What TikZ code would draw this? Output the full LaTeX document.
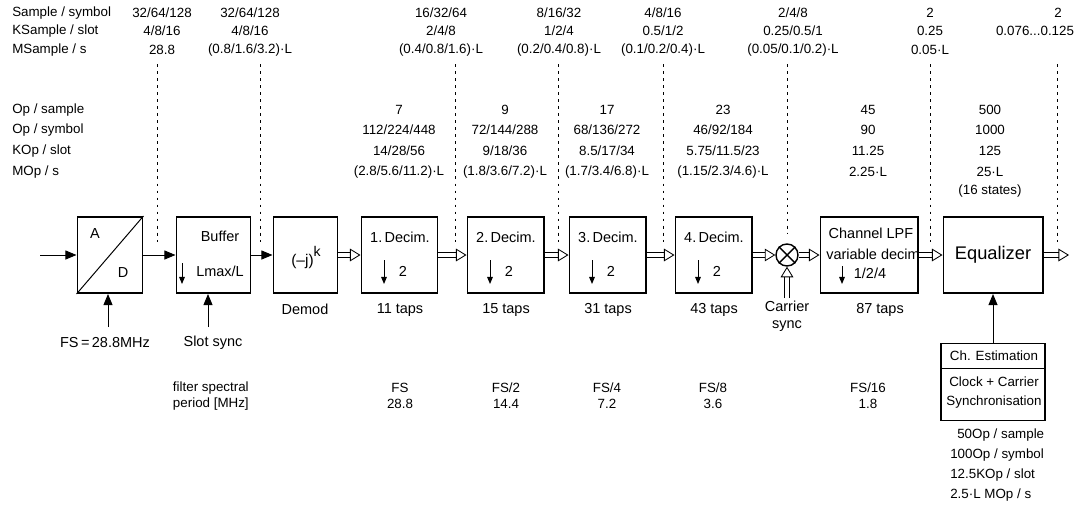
\documentclass[tikz,border=0pt]{standalone}
\usepackage{fontspec}
\setmainfont{Liberation Sans}
\usetikzlibrary{arrows.meta}

\tikzset{
  blk/.style={draw, line width=1.4pt, minimum height=1.9cm, inner sep=0pt},
  lbl/.style={font=\fontsize{9.5}{11.4}\selectfont, inner sep=0pt},
  inlbl/.style={font=\fontsize{10.3}{12}\selectfont, inner sep=0pt},
  sig/.style={line width=0.7pt, -{Triangle[length=8pt,width=6.5pt]}},
  bus/.style={double, double distance=2.6pt, line width=0.6pt,
    -{Triangle[open,length=7.5pt,width=9pt,line width=0.6pt]}},
  sep/.style={line width=0.6pt, dash pattern=on 2pt off 3pt},
  dn/.style={line width=0.7pt, -{Triangle[length=5pt,width=4pt]}}
}

\begin{document}
\begin{tikzpicture}[x=0.025cm, y=-0.025cm]
    \useasboundingbox (0,0) rectangle (1079,506);

    % Sample rates
    \node[lbl, anchor=west] at (12,13) {Sample / symbol};
    \node[lbl, anchor=west] at (12,31) {KSample / slot};
    \node[lbl, anchor=west] at (12,50) {MSample / s};
    \node[lbl] at (162,13) {32/64/128};
    \node[lbl] at (162,31) {4/8/16};
    \node[lbl] at (162,50) {28.8};
    \node[lbl] at (250,13) {32/64/128};
    \node[lbl] at (250,31) {4/8/16};
    \node[lbl] at (250,50) {(0.8/1.6/3.2)·L};
    \node[lbl] at (441,13) {16/32/64};
    \node[lbl] at (441,31) {2/4/8};
    \node[lbl] at (441,50) {(0.4/0.8/1.6)·L};
    \node[lbl] at (559,13) {8/16/32};
    \node[lbl] at (559,31) {1/2/4};
    \node[lbl] at (559,50) {(0.2/0.4/0.8)·L};
    \node[lbl] at (663,13) {4/8/16};
    \node[lbl] at (663,31) {0.5/1/2};
    \node[lbl] at (663,50) {(0.1/0.2/0.4)·L};
    \node[lbl] at (793,13) {2/4/8};
    \node[lbl] at (793,31) {0.25/0.5/1};
    \node[lbl] at (793,50) {(0.05/0.1/0.2)·L};
    \node[lbl] at (930,13) {2};
    \node[lbl] at (930,31) {0.25};
    \node[lbl] at (930,50) {0.05·L};
    \node[lbl] at (1058,13) {2};
    \node[lbl] at (1035,31) {0.076...0.125};

    % Operation counts
    \node[lbl, anchor=west] at (12,110) {Op / sample};
    \node[lbl, anchor=west] at (12,130) {Op / symbol};
    \node[lbl, anchor=west] at (12,151) {KOp / slot};
    \node[lbl, anchor=west] at (12,172) {MOp / s};
    \node[lbl] at (399,110) {7};
    \node[lbl] at (399,130) {112/224/448};
    \node[lbl] at (399,151) {14/28/56};
    \node[lbl] at (399,172) {(2.8/5.6/11.2)·L};
    \node[lbl] at (505,110) {9};
    \node[lbl] at (505,130) {72/144/288};
    \node[lbl] at (505,151) {9/18/36};
    \node[lbl] at (505,172) {(1.8/3.6/7.2)·L};
    \node[lbl] at (607,110) {17};
    \node[lbl] at (607,130) {68/136/272};
    \node[lbl] at (607,151) {8.5/17/34};
    \node[lbl] at (607,172) {(1.7/3.4/6.8)·L};
    \node[lbl] at (723,110) {23};
    \node[lbl] at (723,130) {46/92/184};
    \node[lbl] at (723,151) {5.75/11.5/23};
    \node[lbl] at (723,172) {(1.15/2.3/4.6)·L};
    \node[lbl] at (868,110) {45};
    \node[lbl] at (868,130) {90};
    \node[lbl] at (868,151) {11.25};
    \node[lbl] at (868,172) {2.25·L};
    \node[lbl] at (990,110) {500};
    \node[lbl] at (990,130) {1000};
    \node[lbl] at (990,151) {125};
    \node[lbl] at (990,172) {25·L};
    \node[lbl] at (990,191) {(16 states)};

    % Separators
    \foreach \x in {157,260,455,558,663,930,1057}
        \draw[sep] (\x,64) -- (\x,242);
    \draw[sep] (787,64) -- (787,234);

    % Blocks
    \node[blk, minimum width=1.625cm] (ad) at (110,255) {};
    \draw[line width=0.7pt] (ad.south west) -- (ad.north east);
    \node[inlbl] at (95,234) {A};
    \node[inlbl] at (123,273) {D};

    \node[blk, minimum width=1.85cm] (buf) at (213.5,255) {};
    \node[inlbl] at (220,236) {Buffer};
    \node[inlbl] at (220,271) {Lmax/L};
    \draw[dn] (182,263) -- (182,284);

    \node[blk, minimum width=1.6cm] (dem) at (305.5,255) {};
    \node[inlbl, font=\fontsize{11}{13}\selectfont] at (306,258) {(–j)\raisebox{1.1ex}{\fontsize{10}{12}\selectfont k}};
    \node[inlbl] at (305,309) {Demod};

    \node[blk, minimum width=1.9cm] (d1) at (399.5,255) {};
    \node[inlbl] at (400,237) {1.\,Decim.};
    \draw[dn] (384,260) -- (384,284);
    \node[inlbl] at (403,271) {2};
    \node[inlbl] at (400,310) {11 taps};

    \node[blk, minimum width=1.9cm] (d2) at (505.5,255) {};
    \node[inlbl] at (506,237) {2.\,Decim.};
    \draw[dn] (490,260) -- (490,284);
    \node[inlbl] at (509,271) {2};
    \node[inlbl] at (506,310) {15 taps};

    \node[blk, minimum width=1.9cm] (d3) at (607.5,255) {};
    \node[inlbl] at (608,237) {3.\,Decim.};
    \draw[dn] (592,260) -- (592,284);
    \node[inlbl] at (611,271) {2};
    \node[inlbl] at (608,310) {31 taps};

    \node[blk, minimum width=1.9cm] (d4) at (713.5,255) {};
    \node[inlbl] at (714,237) {4.\,Decim.};
    \draw[dn] (698,260) -- (698,284);
    \node[inlbl] at (717,271) {2};
    \node[inlbl] at (714,310) {43 taps};

    % Mixer
    \node[draw, circle, line width=1pt, minimum size=0.55cm, inner sep=0pt] (mix) at (787,255) {};
    \draw[line width=1pt] (mix.45) -- (mix.225) (mix.135) -- (mix.315);
    \node[inlbl, align=center] at (787,316) {Carrier\\sync};

    \node[blk, minimum width=2.425cm] (lpf) at (869,255) {};
    \node[inlbl] at (871,233) {Channel LPF};
    \node[inlbl] at (873,254) {variable decim};
    \draw[dn] (842,266) -- (842,284);
    \node[inlbl] at (870,273) {1/2/4};
    \node[inlbl] at (880,310) {87 taps};

    \node[blk, minimum width=2.475cm, font=\fontsize{13}{15}\selectfont] (eq) at (993,255) {Equalizer};

    \node[blk, minimum width=2.6cm, minimum height=1.925cm] (ce) at (993,382) {};
    \draw[line width=0.7pt] (ce.west |- 0,368) -- (ce.east |- 0,368);
    \node[lbl] at (994,356) {Ch. Estimation};
    \node[lbl] at (994,382) {Clock + Carrier};
    \node[lbl] at (994,402) {Synchronisation};

    % Inputs and outputs
    \coordinate (in) at (40,255);
    \coordinate (fsin) at (108,327);
    \coordinate (slin) at (208,327);
    \coordinate (csin) at (787,298);
    \coordinate (out) at (1069,255);
    \node[inlbl] at (105,343) {FS\,=\,28.8MHz};
    \node[inlbl] at (213,343) {Slot sync};

    % Signal path
    \draw[sig] (in) -- (ad);
    \draw[sig] (ad) -- (buf);
    \draw[sig] (buf) -- (dem);
    \draw[sig] (fsin) -- (fsin |- ad.south);
    \draw[sig] (slin) -- (slin |- buf.south);
    \draw[sig] (ce) -- (eq);
    \draw[bus] (dem) -- (d1);
    \draw[bus] (d1) -- (d2);
    \draw[bus] (d2) -- (d3);
    \draw[bus] (d3) -- (d4);
    \draw[bus] (d4) -- (mix);
    \draw[bus] (mix) -- (lpf);
    \draw[bus] (lpf) -- (eq);
    \draw[bus] (eq) -- (out);
    \draw[bus] (csin) -- (mix);

    % Filter periods
    \node[lbl, align=right, anchor=east] at (249,396) {filter spectral\\period [MHz]};
    \node[lbl, align=center] at (400,396) {FS\\28.8};
    \node[lbl, align=center] at (506,396) {FS/2\\14.4};
    \node[lbl, align=center] at (607,396) {FS/4\\7.2};
    \node[lbl, align=center] at (713,396) {FS/8\\3.6};
    \node[lbl, align=center] at (868,396) {FS/16\\1.8};

    % Estimation load
    \node[lbl, anchor=west] at (957,435) {50Op / sample};
    \node[lbl, anchor=west] at (950,455) {100Op / symbol};
    \node[lbl, anchor=west] at (950,475) {12.5KOp / slot};
    \node[lbl, anchor=west] at (950,495) {2.5·L MOp / s};
\end{tikzpicture}
\end{document}
